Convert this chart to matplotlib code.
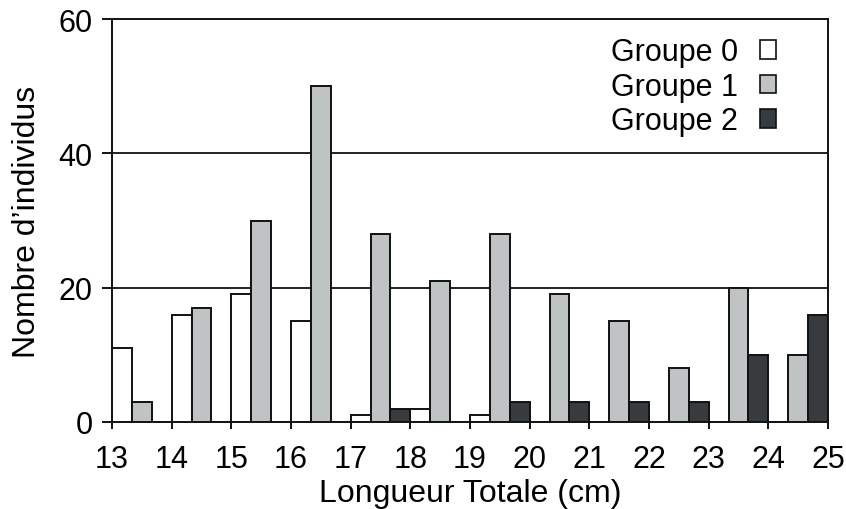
import matplotlib
matplotlib.use("Agg")
import matplotlib.pyplot as plt
import numpy as np

lengths = [13, 14, 15, 16, 17, 18, 19, 20, 21, 22, 23, 24]
groupe0 = [11, 16, 19, 15, 1, 2, 1, 0, 0, 0, 0, 0]
groupe1 = [3, 17, 30, 50, 28, 21, 28, 19, 15, 8, 20, 10]
groupe2 = [0, 0, 0, 0, 2, 0, 3, 3, 3, 3, 10, 16]
labels = ["Groupe 0", "Groupe 1", "Groupe 2"]
colors = ["#ffffff", "#c0c3c4", "#373b3d"]
xticks = list(range(13, 26))
yticks = [0, 20, 40, 60]

plt.rcParams['font.family'] = ['Liberation Sans', 'DejaVu Sans']

fig = plt.figure(figsize=(8.46, 5.10), dpi=100)
ax = fig.add_axes([112/846, 1 - 423/510, (828-112)/846, (423-20)/510])

w = 1/3
x = np.array(lengths, dtype=float)
for i, (vals, lab, col) in enumerate(zip([groupe0, groupe1, groupe2], labels, colors)):
    ax.bar(x + i*w, vals, width=w, align='edge', color=col, edgecolor='#111111',
           linewidth=1.4, label=lab, zorder=3)

ax.set_xlim(13, 25)
ax.set_ylim(0, 60)
ax.set_xticks(xticks)
ax.set_yticks(yticks)
for y in [20, 40]:
    ax.axhline(y, color='#222222', linewidth=1.4, zorder=1)

for s in ax.spines.values():
    s.set_linewidth(1.4)
    s.set_color('#111111')
ax.tick_params(axis='both', direction='out', width=1.4, labelsize=22, color='#111111')
ax.tick_params(axis='x', length=5, pad=11)
ax.tick_params(axis='y', length=7, pad=7)

ax.set_xlabel("Longueur Totale (cm)", fontsize=23, labelpad=3)
ax.set_ylabel("Nombre d\u2019individus", fontsize=23, labelpad=12)

leg = ax.legend(loc='upper right', frameon=False, fontsize=22, markerfirst=False,
                handlelength=0.55, handleheight=0.55, handletextpad=0.7, labelspacing=0.15,
                borderaxespad=0.0, bbox_to_anchor=(0.945, 0.985))
for p in leg.get_patches():
    p.set_linewidth(1.2)

fig.savefig("out.png", dpi=100)
